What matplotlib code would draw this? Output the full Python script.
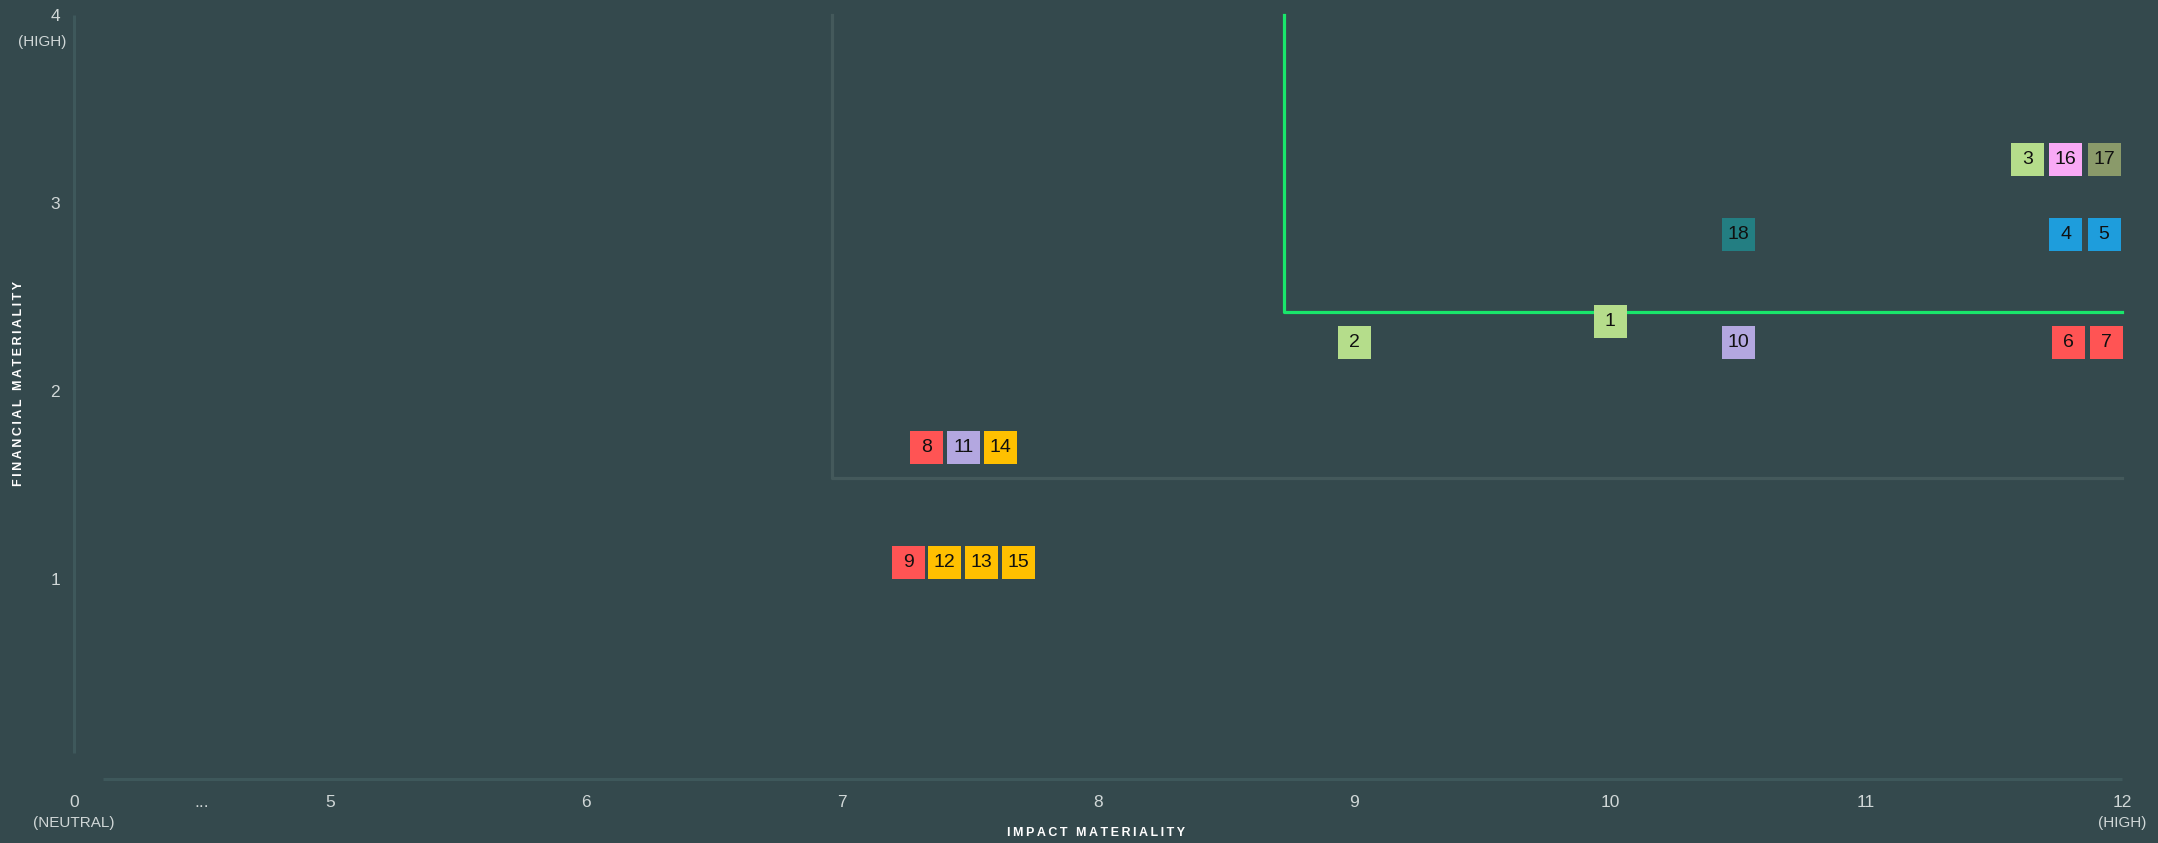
import matplotlib
matplotlib.use("Agg")
from matplotlib import pyplot as plt

# topic numbers and where they sit on the matrix
topics = [1, 2, 3, 4, 5, 6, 7, 8, 9, 10, 11, 12, 13, 14, 15, 16, 17, 18]
impact = [10.0, 9.0, 11.63, 11.78, 11.93, 11.79, 11.94, 7.33, 7.26, 10.5,
          7.475, 7.40, 7.545, 7.62, 7.69, 11.78, 11.93, 10.5]
financial = [2.37, 2.26, 3.23, 2.83, 2.83, 2.26, 2.26, 1.70, 1.09, 2.26,
             1.70, 1.09, 1.09, 1.70, 1.09, 3.23, 3.23, 2.83]
topic_colors = ["#b5dd8b", "#b5dd8b", "#b5dd8b", "#1e9ddc", "#1e9ddc", "#ff5454",
                "#ff5454", "#ff5454", "#ff5454", "#b3a7e0", "#b3a7e0", "#ffc000",
                "#ffc000", "#ffc000", "#ffc000", "#f9a9f6", "#8a9a6a", "#237e82"]

# threshold lines
grey_x = [6.96, 6.96, 12]
grey_y = [4.0, 1.537, 1.537]
green_x = [8.725, 8.725, 12]
green_y = [4.0, 2.42, 2.42]

x_ticks = [4, 4.5, 5, 6, 7, 8, 9, 10, 11, 12]
x_tick_labels = ["0", "...", "5", "6", "7", "8", "9", "10", "11", "12"]
y_ticks = [1, 2, 3, 4]
y_tick_labels = ["1", "2", "3", "4"]

bg = "#34494d"
axis_col = "#3e585b"
tick_col = "#d0d7d7"
fam = ["Liberation Sans", "DejaVu Sans"]
plt.rcParams["font.family"] = fam

W, H = 2158, 843
fig = plt.figure(figsize=(W / 100, H / 100), dpi=100, facecolor=bg)
ax = fig.add_axes([74 / W, 76 / H, 2048 / W, 752 / H])
ax.set_facecolor(bg)
ax.set_xlim(4, 12)
ax.set_ylim(0, 4)
for s in ax.spines.values():
    s.set_visible(False)

# axis lines (drawn apart from each other like the original)
ax.plot([4, 4], [0.074, 4], color=axis_col, lw=2.2, clip_on=False, solid_capstyle="butt")
ax.plot([4.113, 12], [-0.064, -0.064], color=axis_col, lw=2.2, clip_on=False, solid_capstyle="butt")

ax.plot(grey_x, grey_y, color="#44595b", lw=2.3, clip_on=False, zorder=2)
ax.plot(green_x, green_y, color="#19e66b", lw=2.3, clip_on=False, zorder=2)

ax.scatter(impact, financial, s=(33 * 0.72) ** 2, marker="s", c=topic_colors,
           linewidths=0, zorder=3, clip_on=False)
for t, xv, yv in zip(topics, impact, financial):
    ax.text(xv, yv, str(t), ha="center", va="center", fontsize=14,
            color="#111111", zorder=4)

ax.set_xticks(x_ticks, x_tick_labels)
ax.set_yticks(y_ticks, y_tick_labels)
ax.tick_params(axis="x", length=0, pad=20, labelsize=12.5, colors=tick_col)
ax.tick_params(axis="y", length=0, pad=10, labelsize=12.5, colors=tick_col)

ax.text(4, -0.30, "(NEUTRAL)", ha="center", va="center", fontsize=11,
        color=tick_col, clip_on=False)
ax.text(12, -0.30, "(HIGH)", ha="center", va="center", fontsize=11,
        color=tick_col, clip_on=False)
ax.text(3.97, 3.856, "(HIGH)", ha="right", va="center", fontsize=11,
        color=tick_col, clip_on=False)

thin = "\u2009"
fig.text(1096 / W, 10 / H, thin.join("IMPACT MATERIALITY"), ha="center",
         va="center", fontsize=9, color="white", fontweight="bold")
fig.text(19 / W, (H - 383) / H, thin.join("FINANCIAL MATERIALITY"), ha="center",
         va="center", fontsize=9, color="white", rotation=90, fontweight="bold")

fig.savefig("out.png", dpi=100, facecolor=bg)
